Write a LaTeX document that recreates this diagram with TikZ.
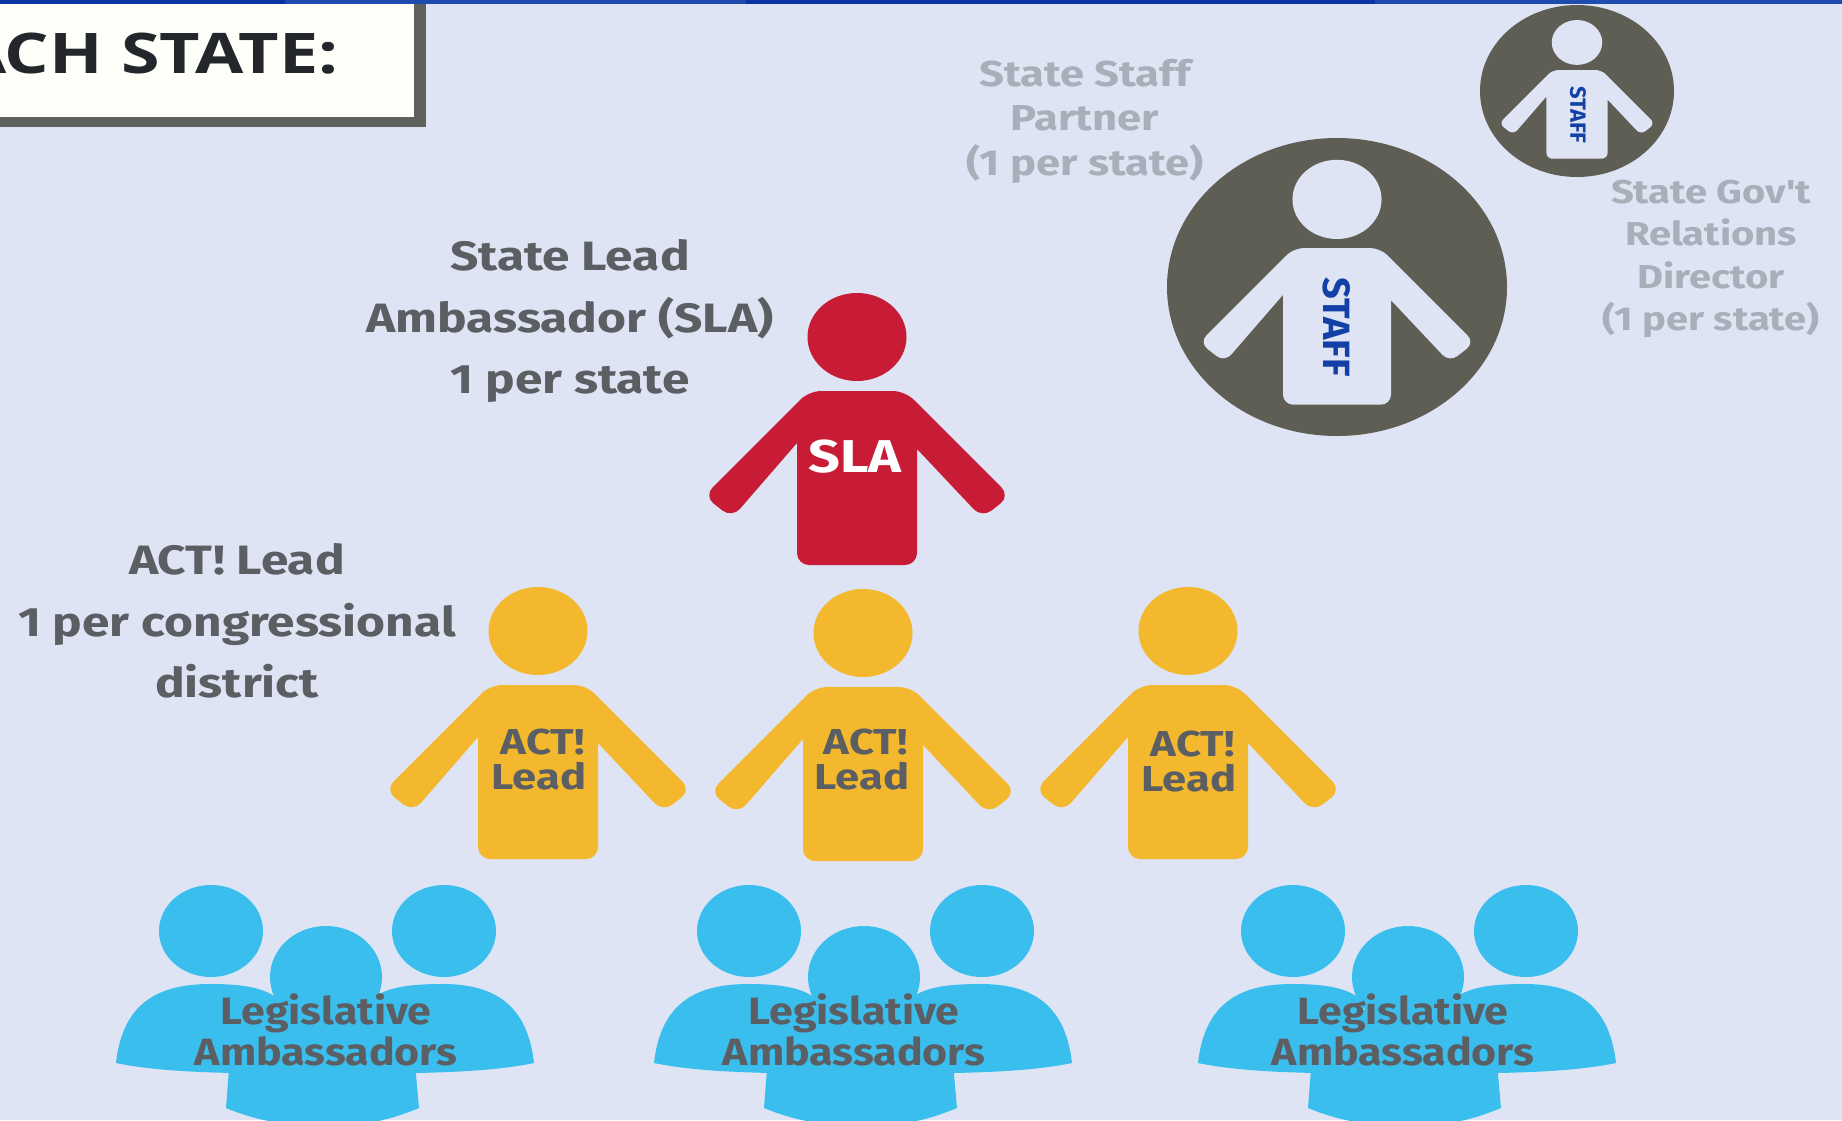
\documentclass[tikz,border=0pt]{standalone}
\usepackage{fontspec}
\setmainfont[FakeStretch=1.21]{Fira Sans}
\newfontfamily\plainfont{Fira Sans}
\newfontfamily\aposfont[FakeStretch=1.21]{Fira Sans}
\newfontfamily\legisfont[FakeStretch=1.13]{Fira Sans}
\newfontfamily\titlefont[FakeStretch=1.25]{Open Sans}
\definecolor{bgc}{HTML}{DEE4F3}
\definecolor{bardark}{HTML}{0A34A4}
\definecolor{barlight}{HTML}{1E4BAE}
\definecolor{frame}{HTML}{5F625C}
\definecolor{boxfill}{HTML}{FFFFFA}
\definecolor{titletext}{HTML}{23262B}
\definecolor{labeltext}{HTML}{5B5F63}
\definecolor{lightlabel}{HTML}{A9AEB8}
\definecolor{redc}{HTML}{C71B36}
\definecolor{yellowc}{HTML}{F3B82D}
\definecolor{bluec}{HTML}{3ABEEE}
\definecolor{staffc}{HTML}{5E5E54}
\definecolor{stafftext}{HTML}{1240A6}
\newcommand\fsz[2]{\fontsize{#1}{#2}\selectfont\bfseries}
\newcommand\personfig[5]{%
  \begin{scope}[shift={(#1,#2)},scale=#3]
    \fill[#4] (0,-54) ellipse [x radius=49.5,y radius=44];
    \fill[#4,rounded corners=#5] (-60,174) [sharp corners] -- (-60,52) [rounded corners=#5] -- (-125,127) -- (-153,105) -- (-48,0) -- (48,0) -- (153,105) -- (125,127) [sharp corners] -- (60,58) [rounded corners=#5] -- (60,174) -- cycle;
  \end{scope}}
\newcommand\legisgroup[1]{%
  \begin{scope}[shift={(#1,0)}]
    \fill[bluec] (211,931) ellipse [x radius=52,y radius=46];
    \fill[bluec] (444,931) ellipse [x radius=52,y radius=46];
    \fill[bluec] (116,1063) .. controls (122,1010) and (150,984) .. (210,984) .. controls (245,984) and (265,988) .. (280,1000) -- (290,1070) -- (233,1073) .. controls (190,1072) and (150,1070) .. (116,1063) -- cycle;
    \fill[bluec] (534,1063) .. controls (528,1010) and (500,984) .. (443,984) .. controls (405,984) and (385,988) .. (370,1000) -- (360,1070) -- (417,1073) .. controls (460,1072) and (500,1070) .. (534,1063) -- cycle;
    \fill[bluec] (326,977) ellipse [x radius=56,y radius=51];
    \fill[bluec] (226,1108) -- (232,1030) -- (270,1010) -- (380,1010) -- (412,1030) -- (419,1108) .. controls (385,1122) and (360,1126) .. (325,1126) .. controls (290,1126) and (260,1122) .. (226,1108) -- cycle;
  \end{scope}}
\begin{document}
\begin{tikzpicture}[x=0.5pt,y=-0.5pt,
  labelstyle/.style={text=labeltext,align=center,inner sep=0pt,font=\fsz{20.5}{30.7}},
  faintstyle/.style={text=lightlabel,align=center,inner sep=0pt},
  shirtstyle/.style={text=labeltext,align=center,inner sep=0pt,font=\fsz{18}{17.5}},
  legisstyle/.style={text=labeltext,align=center,inner sep=0pt,font={\legisfont\fsz{19}{20.5}}},
  staffstyle/.style={text=stafftext,inner sep=0pt,rotate=-90}]
\clip (0,0) rectangle (1842,1120);
\fill[bgc] (0,0) rectangle (1842,1120);
% top bar
\fill[bardark] (0,0) rectangle (285,4);
\fill[barlight] (285,0) rectangle (746,4);
\fill[bardark] (746,0) rectangle (1375,4);
\fill[barlight] (1375,0) rectangle (1842,4);
% title box
\fill[frame] (-10,4) rectangle (426,127);
\fill[boxfill] (-10,4) rectangle (414,117);
\node[anchor=base east,inner sep=0pt,text=titletext,font={\titlefont\fontsize{28}{30}\selectfont\bfseries}] (title) at (339,73) {ACH STATE:};
% staff
\fill[staffc] (1337,287) ellipse [x radius=170,y radius=149];
\personfig{1337}{248}{0.9}{bgc}{5pt}
\node[staffstyle,font={\plainfont\fsz{19}{20}}] (staffbig) at (1337,327) {STAFF};
\fill[staffc] (1577,91) ellipse [x radius=97,y radius=86];
\personfig{1577}{70}{0.51}{bgc}{3pt}
\node[staffstyle,font={\plainfont\fsz{11}{12}}] (staffsmall) at (1578,115) {STAFF};
% SLA
\personfig{857}{391}{1}{redc}{6pt}
\node[text=white,inner sep=0pt,font=\fsz{23}{24}] (sla) at (855,457) {SLA};
% ACT leads
\personfig{538}{685}{1}{yellowc}{6pt}
\personfig{863}{687}{1}{yellowc}{6pt}
\personfig{1188}{685}{1}{yellowc}{6pt}
\node[shirtstyle] (act1) at (539,760) {\hspace*{4pt}ACT!\\Lead};
\node[shirtstyle] (act2) at (862,760) {\hspace*{4pt}ACT!\\Lead};
\node[shirtstyle] (act3) at (1189,762) {\hspace*{4pt}ACT!\\Lead};
% legislative ambassadors
\legisgroup{0}
\legisgroup{538}
\legisgroup{1082}
\node[legisstyle] (leg1) at (326,1029.5) {Legislative\\Ambassadors};
\node[legisstyle] (leg2) at (854,1029.5) {Legislative\\Ambassadors};
\node[legisstyle] (leg3) at (1403,1029.5) {Legislative\\Ambassadors};
% labels
\node[labelstyle] (lsla) at (570,321) {State Lead\\Ambassador (SLA)\\1 per state};
\node[labelstyle] (lact) at (237,621) {ACT! Lead\\1 per congressional\\district};
\node[faintstyle,font=\fsz{18}{22.2}] (lpartner) at (1085,121) {State Staff\\Partner\\(1 per state)};
\node[faintstyle,font=\fsz{16.5}{21.1}] (ldirector) at (1711,259) {State Gov{\aposfont\bfseries'}t\\Relations\\Director\\(1 per state)};
\end{tikzpicture}
\end{document}
